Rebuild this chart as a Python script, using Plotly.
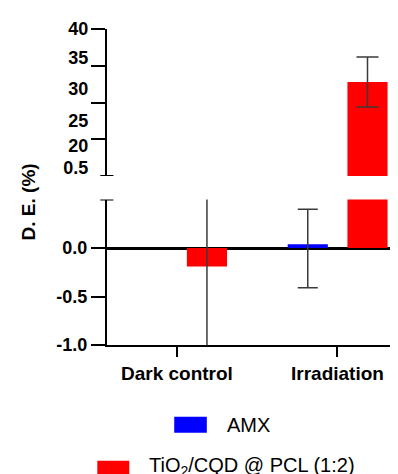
import plotly.graph_objects as go

# ---------------- data ----------------
categories = ["Dark control", "Irradiation"]
amx_values = [None, 0.04]
amx_err_plus = [None, 0.36]
amx_err_minus = [None, 0.45]
tio_values = [-0.19, 32.8]
tio_err = [1.6, 3.4]

lower_tick_vals = [-1.0, -0.5, 0.0]
lower_tick_text = ["-1.0", "-0.5", "0.0"]
upper_tick_marks = [25, 30, 35, 40]
upper_tick_labels = ["40", "35", "30", "25", "20", "0.5"]
upper_label_at = [40, 36.15, 31.93, 27.48, 24.18, 21.09]

series_names = ["AMX", "TiO<sub>2</sub>/CQD @ PCL (1:2)"]

# ---------------- style ----------------
BLUE = "#0000FF"
RED = "#FF0000"
FONT = "Liberation Sans"
BAR_W = 0.25

fig = go.Figure()

for xa, ya in [("x", "y"), ("x2", "y2")]:
    fig.add_trace(go.Bar(
        x=list(range(len(categories))), y=amx_values, width=BAR_W, offset=-0.31,
        marker=dict(color=BLUE, line=dict(width=0)),
        error_y=dict(type="data", symmetric=False, array=amx_err_plus, arrayminus=amx_err_minus,
                     color="#3a3a3a", thickness=1.5, width=10),
        xaxis=xa, yaxis=ya, showlegend=False, name=series_names[0]))
    fig.add_trace(go.Bar(
        x=list(range(len(categories))), y=tio_values, width=BAR_W, offset=0.062,
        marker=dict(color=RED, line=dict(width=0)),
        error_y=dict(type="data", array=tio_err, color="#3a3a3a", thickness=1.5, width=11),
        xaxis=xa, yaxis=ya, showlegend=False, name=series_names[1]))

xr = [-0.4356, 1.377]
lower_dom = [0, 0.4604]
upper_dom = [0.5348, 1]

fig.update_layout(
    width=390, height=466,
    margin=dict(l=99, r=0, t=21, b=129),
    paper_bgcolor="white", plot_bgcolor="white",
    barmode="overlay",
    showlegend=False,
    font=dict(family=FONT, color="black"),
    xaxis=dict(domain=[0, 1], anchor="y", range=xr,
               tickvals=list(range(len(categories))), ticktext=categories,
               showline=True, linecolor="black", linewidth=2,
               ticks="outside", ticklen=10, tickwidth=2, tickcolor="black",
               tickfont=dict(family=FONT, size=19, weight="bold", color="black"),
               showgrid=False, zeroline=False),
    xaxis2=dict(domain=[0, 1], anchor="y2", range=xr, visible=False),
    yaxis=dict(domain=lower_dom, anchor="x", range=[-1.0, 0.5],
               tickvals=lower_tick_vals, ticktext=lower_tick_text,
               showline=True, linecolor="black", linewidth=2,
               ticks="outside", ticklen=14, tickwidth=2, tickcolor="black",
               tickfont=dict(family=FONT, size=18, weight="bold", color="black"),
               showgrid=False, zeroline=True, zerolinecolor="black", zerolinewidth=2.5),
    yaxis2=dict(domain=upper_dom, anchor="x2", range=[20, 40],
                tickvals=upper_tick_marks, showticklabels=False,
                showline=True, linecolor="black", linewidth=2,
                ticks="outside", ticklen=14, tickwidth=2, tickcolor="black",
                showgrid=False, zeroline=False),
    yaxis3=dict(domain=upper_dom, anchor="x2", overlaying="y2", range=[20, 40],
                tickvals=upper_label_at, ticktext=upper_tick_labels,
                showline=False, ticks="outside", ticklen=14, tickcolor="rgba(0,0,0,0)",
                tickfont=dict(family=FONT, size=18, weight="bold", color="black"),
                showgrid=False, zeroline=False),
)

# dummy trace to activate yaxis3
fig.add_trace(go.Scatter(x=[None], y=[None], xaxis="x2", yaxis="y3",
                         showlegend=False, hoverinfo="skip"))

# axis break caps
fig.add_shape(type="line", xref="paper", yref="y2", x0=-0.023, x1=0.022, y0=20, y1=20,
              line=dict(color="black", width=2))
fig.add_shape(type="line", xref="paper", yref="y", x0=-0.023, x1=0.022, y0=0.5, y1=0.5,
              line=dict(color="black", width=2))

# y-axis title
fig.add_annotation(text="<b>D. E. (%)</b>", xref="paper", yref="paper", x=-0.27, y=0.4525,
                   textangle=-90, showarrow=False, font=dict(family=FONT, size=19, color="black"),
                   xanchor="center", yanchor="middle")

# legend (manual)
legend_colors = [BLUE, RED]
legend_swatch = [(0.231, 0.343, -0.2775, -0.2269), (-0.0333, 0.0766, -0.4168, -0.3661)]
legend_text_pos = [(0.406, -0.2522), (0.1383, -0.383)]
for name, col, (x0, x1, y0, y1), (tx, ty) in zip(series_names, legend_colors, legend_swatch, legend_text_pos):
    fig.add_shape(type="rect", xref="paper", yref="paper", x0=x0, x1=x1, y0=y0, y1=y1,
                  fillcolor=col, line=dict(width=0))
    fig.add_annotation(text=name, xref="paper", yref="paper", x=tx, y=ty, showarrow=False,
                       xanchor="left", yanchor="middle", font=dict(family=FONT, size=20, color="black"))

fig.write_html("out.html")
